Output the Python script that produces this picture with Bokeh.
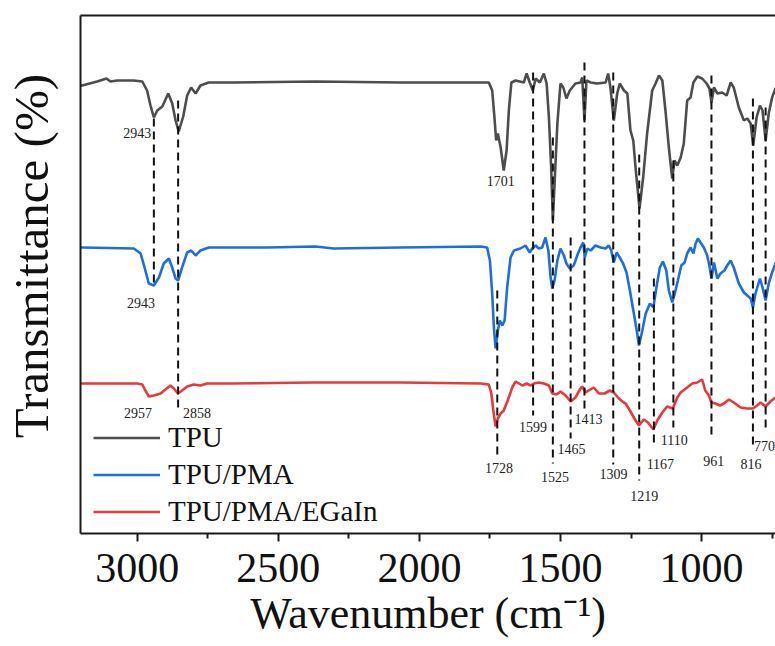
from bokeh.plotting import figure
from bokeh.models import Range1d, FixedTicker, LinearAxis, Legend, LegendItem, ColumnDataSource
from bokeh.core.properties import value
from bokeh.embed import file_html
from bokeh.resources import INLINE

SERIF = "Liberation Serif"

# ---- data (wavenumber cm-1, offset transmittance a.u.) ----
tpu = [(3210, 448), (3195, 448), (3142, 452), (3109, 455), (3095, 452), (3071, 453), (3013, 453),
       (2982, 452), (2965, 443), (2953, 428), (2941, 416), (2929, 423), (2911, 427), (2890, 440),
       (2876, 430), (2864, 413), (2853, 402), (2837, 417), (2823, 438), (2809, 446), (2793, 440),
       (2776, 448), (2747, 451), (2659, 451), (2368, 452), (2067, 451), (1783, 451), (1754, 451),
       (1742, 443), (1734, 416), (1728, 393), (1722, 400), (1712, 386), (1701, 363), (1691, 383),
       (1683, 423), (1674, 451), (1659, 453), (1630, 451), (1620, 460), (1609, 451), (1598, 443),
       (1588, 455), (1573, 451), (1559, 460), (1549, 450), (1541, 416), (1533, 366), (1527, 313),
       (1520, 356), (1511, 410), (1500, 450), (1490, 446), (1479, 435), (1467, 443), (1447, 450),
       (1429, 451), (1423, 456), (1415, 413), (1408, 453), (1393, 451), (1370, 450), (1340, 451),
       (1331, 460), (1323, 446), (1311, 413), (1299, 440), (1290, 450), (1275, 443), (1263, 440),
       (1252, 403), (1242, 393), (1234, 366), (1220, 325), (1207, 356), (1193, 400), (1175, 443),
       (1163, 450), (1151, 458), (1139, 453), (1128, 423), (1116, 386), (1104, 355), (1096, 373),
       (1086, 368), (1074, 376), (1063, 390), (1051, 433), (1039, 436), (1029, 451), (1015, 457),
       (998, 455), (982, 450), (972, 445), (965, 431), (956, 446), (944, 440), (927, 441),
       (911, 438), (897, 451), (886, 446), (868, 426), (850, 413), (838, 415), (826, 410),
       (817, 388), (805, 416), (793, 428), (784, 423), (773, 393), (762, 420), (750, 436),
       (738, 445), (725, 448)]

tpu_pma = [(3210, 286), (3194, 286), (3012, 285), (2988, 280), (2974, 266), (2959, 250), (2941, 248),
           (2923, 256), (2906, 270), (2888, 275), (2876, 266), (2864, 255), (2855, 253), (2841, 266),
           (2823, 281), (2809, 283), (2793, 278), (2776, 283), (2746, 286), (2539, 286), (2368, 287),
           (2304, 285), (2067, 286), (1783, 287), (1760, 286), (1750, 273), (1742, 240), (1736, 206),
           (1730, 185), (1722, 203), (1715, 213), (1706, 208), (1698, 213), (1689, 246), (1677, 276),
           (1665, 283), (1642, 285), (1624, 288), (1609, 281), (1600, 285), (1588, 288), (1577, 285),
           (1565, 286), (1553, 296), (1543, 283), (1535, 256), (1529, 245), (1521, 253), (1511, 273),
           (1500, 285), (1488, 278), (1479, 270), (1467, 265), (1453, 268), (1438, 280), (1429, 286),
           (1419, 291), (1414, 276), (1405, 285), (1393, 283), (1376, 288), (1358, 286), (1340, 285),
           (1329, 288), (1320, 283), (1311, 271), (1301, 281), (1290, 276), (1278, 270), (1266, 261),
           (1254, 243), (1240, 220), (1228, 200), (1222, 188), (1210, 203), (1198, 220), (1183, 230),
           (1171, 226), (1160, 246), (1148, 266), (1137, 272), (1125, 263), (1116, 243), (1104, 231),
           (1095, 240), (1084, 253), (1072, 268), (1060, 271), (1051, 280), (1039, 286), (1029, 280),
           (1021, 290), (1013, 295), (1004, 291), (992, 286), (980, 278), (971, 266), (965, 255),
           (956, 271), (944, 255), (933, 260), (919, 263), (909, 268), (897, 273), (886, 266),
           (868, 250), (850, 241), (838, 238), (826, 235), (818, 226), (809, 240), (793, 255),
           (784, 246), (773, 233), (762, 250), (750, 261), (738, 270), (725, 276)]

tpu_pma_egain = [(3210, 150), (3201, 150), (3083, 150), (3000, 150), (2982, 149), (2971, 143),
                 (2959, 137), (2941, 138), (2917, 140), (2900, 144), (2882, 148), (2870, 145),
                 (2856, 140), (2841, 143), (2823, 147), (2799, 149), (2776, 148), (2752, 150),
                 (2669, 150), (2380, 151), (2067, 151), (1783, 150), (1754, 149), (1745, 140),
                 (1738, 123), (1730, 107), (1722, 115), (1712, 120), (1701, 123), (1687, 133),
                 (1671, 146), (1659, 152), (1647, 150), (1635, 148), (1620, 150), (1606, 148),
                 (1594, 150), (1577, 151), (1559, 150), (1541, 148), (1529, 140), (1514, 139),
                 (1500, 142), (1482, 138), (1464, 132), (1447, 136), (1429, 145), (1423, 147),
                 (1411, 141), (1400, 143), (1382, 146), (1364, 140), (1344, 140), (1325, 143),
                 (1311, 141), (1293, 135), (1276, 131), (1269, 130), (1252, 122), (1234, 113),
                 (1222, 108), (1205, 114), (1190, 111), (1171, 104), (1157, 113), (1139, 121),
                 (1122, 127), (1102, 125), (1086, 136), (1074, 141), (1051, 146), (1033, 150),
                 (1015, 151), (998, 154), (987, 143), (974, 138), (965, 131), (951, 130),
                 (935, 128), (921, 130), (903, 134), (886, 131), (862, 126), (838, 125),
                 (818, 125), (803, 128), (791, 131), (773, 127), (756, 132), (738, 136), (725, 139)]

series_names = ["TPU", "TPU/PMA", "TPU/PMA/EGaIn"]
series_colors = ["#4d4d4d", "#1f6fd8", "#e63a3c"]

# dashed marker lines: position, top, bottom
mark_pos = [2941, 2855, 1724, 1597, 1527, 1464, 1415, 1313, 1221, 1169, 1100, 965, 818, 773]
mark_top = [415, 433, 243, 461, 396, 296, 471, 461, 379, 255, 373, 458, 435, 426]
mark_bot = [248, 123, 78, 118, 70, 95, 123, 69, 53, 86, 106, 96, 88, 106]

# peak annotations
label_text = ["2943", "2943", "2957", "2858", "1701", "1728", "1599", "1525", "1465", "1413",
              "1309", "1219", "1167", "1110", "961", "816", "770"]
label_x = [3000, 2987, 2997, 2788, 1712, 1718, 1597, 1519, 1461, 1401,
           1312, 1203, 1146, 1097, 957, 825, 777]
label_y = [401, 231, 121, 121, 353, 66, 107, 57, 85, 115, 60, 38, 70, 94, 73, 70, 88]

x_ticks = [3000, 2500, 2000, 1500, 1000]
x_minor = [2750, 2250, 1750, 1250, 750]

x_title = "Wavenumber (cm\u207b\u00b9)"
y_title = "Transmittance (%)"

# ---- figure ----
p = figure(width=775, height=646, output_backend="svg", toolbar_location=None,
           x_range=Range1d(3201, 738), y_range=Range1d(0, 518),
           min_border_left=80, min_border_right=0, min_border_top=15, min_border_bottom=113,
           x_axis_label=x_title,
           # non-breaking spaces nudge the centred title upward, as in the original
           y_axis_label="\u00a0\u00a0\u00a0" + y_title)
p.outline_line_color = None
p.grid.visible = False
p.background_fill_color = "white"

AX = "#1a1a1a"
TXT = "#111111"
xa = p.xaxis[0]
xa.ticker = FixedTicker(ticks=x_ticks, minor_ticks=x_minor)
xa.major_label_text_font = SERIF
xa.major_label_text_font_size = "42px"
xa.major_label_text_color = TXT
xa.major_label_standoff = 12
xa.axis_label_text_font = SERIF
xa.axis_label_text_font_size = "44px"
xa.axis_label_text_font_style = "normal"
xa.axis_label_text_color = TXT
xa.axis_label_standoff = 4
xa.axis_line_width = 2
xa.axis_line_color = AX
xa.major_tick_out = 8
xa.major_tick_in = 0
xa.minor_tick_out = 5
xa.minor_tick_in = 0
xa.major_tick_line_width = 2
xa.minor_tick_line_width = 2
xa.major_tick_line_color = AX
xa.minor_tick_line_color = AX

ya = p.yaxis[0]
ya.ticker = FixedTicker(ticks=[], minor_ticks=[])
ya.major_tick_out = 0
ya.minor_tick_out = 0
ya.major_label_standoff = 0
ya.axis_label_text_font = SERIF
ya.axis_label_text_font_size = "49px"
ya.axis_label_text_font_style = "normal"
ya.axis_label_text_color = TXT
ya.axis_label_standoff = 22
ya.axis_line_width = 2
ya.axis_line_color = AX

top = LinearAxis(ticker=FixedTicker(ticks=[], minor_ticks=[]), major_tick_out=0, minor_tick_out=0,
                 major_label_standoff=0, major_label_text_font_size="0px",
                 axis_line_width=2, axis_line_color=AX)
p.add_layout(top, "above")

renderers = []
for data, name, col in zip([tpu, tpu_pma, tpu_pma_egain], series_names, series_colors):
    w, t = zip(*data)
    r = p.line(list(w), list(t), line_color=col, line_width=2.6)
    renderers.append(r)

p.segment(x0=mark_pos, y0=mark_top, x1=mark_pos, y1=mark_bot,
          line_color="#111111", line_width=2, line_dash="8 5")

src = ColumnDataSource(dict(x=label_x, y=label_y, text=label_text))
p.text(x="x", y="y", text="text", source=src, text_font=value(SERIF), text_font_size="14px",
       text_color="#222222", text_align="center", text_baseline="middle")

legend = Legend(items=[LegendItem(label=n, renderers=[r]) for n, r in zip(series_names, renderers)],
                location=(13, 3), padding=0, margin=0, spacing=0,
                glyph_width=67, glyph_height=37, label_height=37, label_standoff=8,
                label_text_font=SERIF, label_text_font_size="29px", label_text_color=TXT,
                border_line_color=None, background_fill_alpha=0)
p.add_layout(legend)

open("out.html", "w").write(file_html(p, INLINE))
